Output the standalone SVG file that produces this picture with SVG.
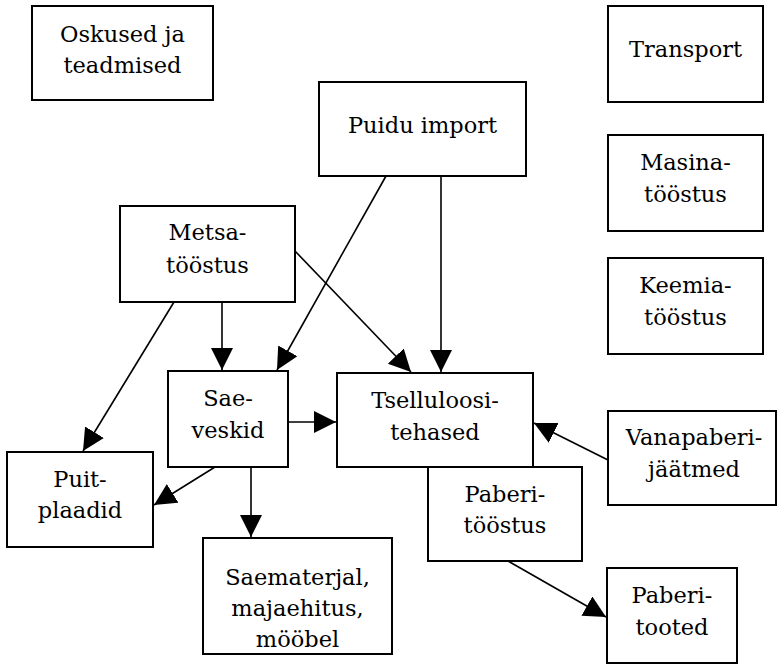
<svg xmlns="http://www.w3.org/2000/svg" width="777" height="664" viewBox="0 0 777 664">
<style>
  .box { fill: #fff; stroke: #000; stroke-width: 2; }
  text { font-family: 'DejaVu Serif', 'Liberation Serif', serif; font-size: 22.5px; fill: #000; text-anchor: middle; }
  .edge { stroke: #000; stroke-width: 1.6; fill: none; marker-end: url(#arr); }
</style>
<defs>
  <marker id="arr" markerUnits="userSpaceOnUse" markerWidth="24" markerHeight="24" refX="22" refY="11" orient="auto">
    <path d="M0,0 L22,11 L0,22 z" fill="#000"/>
  </marker>
</defs>
<rect width="777" height="664" fill="#fff"/>

<g id="n-oskused"><rect class="box" x="32" y="6" width="181" height="94"/>
  <text x="122.5" y="42">Oskused ja</text><text x="122.5" y="73">teadmised</text></g>
<g id="n-transport"><rect class="box" x="608" y="6" width="155" height="96"/>
  <text x="685.5" y="57">Transport</text></g>
<g id="n-masina"><rect class="box" x="608" y="135" width="155" height="96"/>
  <text x="685.5" y="170">Masina-</text><text x="685.5" y="202">tööstus</text></g>
<g id="n-keemia"><rect class="box" x="608" y="258" width="155" height="96"/>
  <text x="685.5" y="293">Keemia-</text><text x="685.5" y="325">tööstus</text></g>
<g id="n-puidu"><rect class="box" x="319" y="82" width="207" height="94"/>
  <text x="422.5" y="133">Puidu import</text></g>
<g id="n-metsa"><rect class="box" x="120" y="206" width="175" height="96"/>
  <text x="207.5" y="240">Metsa-</text><text x="207.5" y="273">tööstus</text></g>
<g id="n-sae"><rect class="box" x="168" y="371" width="120" height="96"/>
  <text x="228" y="406">Sae-</text><text x="228" y="438">veskid</text></g>
<g id="n-tsellu"><rect class="box" x="337" y="373" width="196" height="94"/>
  <text x="435" y="408">Tselluloosi-</text><text x="435" y="440">tehased</text></g>
<g id="n-paberitoostus"><rect class="box" x="428" y="467" width="154" height="94"/>
  <text x="505" y="502">Paberi-</text><text x="505" y="533">tööstus</text></g>
<g id="n-vanapaberi"><rect class="box" x="608" y="411" width="168" height="94"/>
  <text x="694" y="445">Vanapaberi-</text><text x="694" y="477">jäätmed</text></g>
<g id="n-puitplaadid"><rect class="box" x="7" y="452" width="146" height="95"/>
  <text x="80" y="487">Puit-</text><text x="80" y="518">plaadid</text></g>
<g id="n-saematerjal"><rect class="box" x="203" y="538" width="189" height="116"/>
  <text x="297.5" y="585">Saematerjal,</text><text x="297.5" y="616">majaehitus,</text><text x="297.5" y="647">mööbel</text></g>
<g id="n-paberitooted"><rect class="box" x="607" y="568" width="130" height="95"/>
  <text x="672" y="603">Paberi-</text><text x="672" y="635">tooted</text></g>

<g id="connectors">
  <line class="edge" x1="386" y1="176" x2="277" y2="370"/>
  <line class="edge" x1="441" y1="176" x2="441" y2="372"/>
  <line class="edge" x1="174" y1="302" x2="83" y2="451"/>
  <line class="edge" x1="222" y1="302" x2="222" y2="370"/>
  <line class="edge" x1="295" y1="251" x2="411" y2="372"/>
  <line class="edge" x1="288" y1="422" x2="336" y2="422"/>
  <line class="edge" x1="608" y1="460" x2="534" y2="423"/>
  <line class="edge" x1="215" y1="467" x2="154" y2="505"/>
  <line class="edge" x1="251" y1="467" x2="251" y2="537"/>
  <line class="edge" x1="508" y1="561" x2="606" y2="617"/>
</g>
</svg>
